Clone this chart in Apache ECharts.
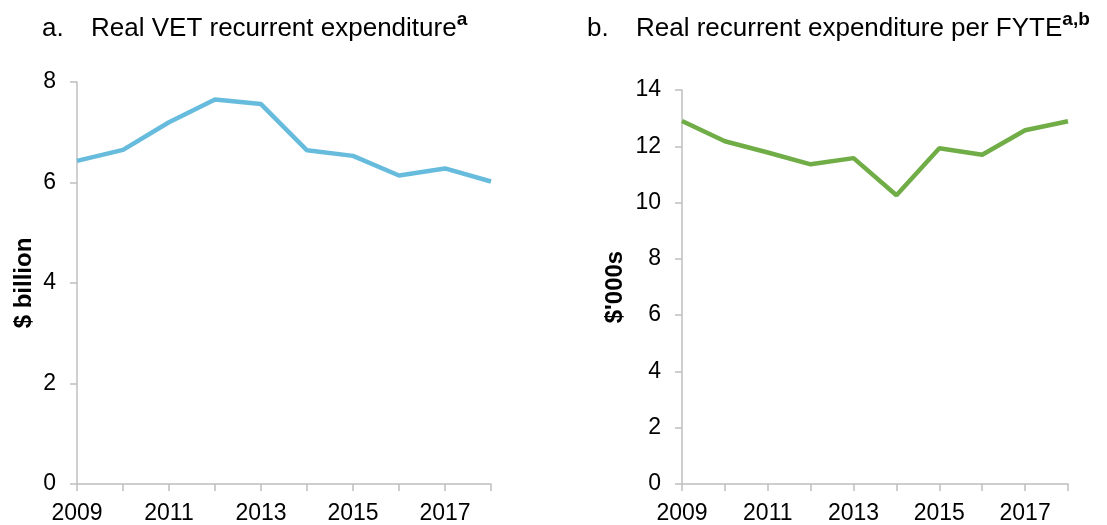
<!DOCTYPE html>
<html>
<head>
<meta charset="utf-8">
<script src="https://cdn.jsdelivr.net/npm/echarts@6/dist/echarts.min.js"></script>
<style>
  html, body { margin: 0; padding: 0; background: #fff; }
  #chart { width: 1107px; height: 525px; }
</style>
</head>
<body>
<div id="chart"></div>
<script>
// Years shown on both panels
const years = ['2009', '2010', '2011', '2012', '2013', '2014', '2015', '2016', '2017', '2018'];
// Panel a: real VET recurrent expenditure ($ billion)
const expenditure = [6.43, 6.65, 7.2, 7.65, 7.56, 6.64, 6.53, 6.14, 6.28, 6.02];
// Panel b: real recurrent expenditure per FYTE ($'000s)
const perFyte = [12.9, 12.18, 11.78, 11.36, 11.58, 10.26, 11.93, 11.7, 12.57, 12.89];

const FONT = '"Liberation Sans", Arial, sans-serif';
const axisGrey = '#bfbfbf';

function xAxisCfg(gridIndex) {
  return {
    type: 'category', gridIndex, data: years, boundaryGap: false,
    axisLine: { lineStyle: { color: axisGrey, width: 1.5 } },
    axisTick: { show: true, length: 7, interval: 0, lineStyle: { color: axisGrey, width: 1.5 } },
    axisLabel: { interval: 1, color: '#000', fontFamily: FONT, fontSize: 23, margin: 18 },
    splitLine: { show: false }
  };
}
function yAxisCfg(gridIndex, max, interval, name, gap) {
  return {
    type: 'value', gridIndex, min: 0, max, interval,
    name, nameLocation: 'middle', nameRotate: 90, nameGap: gap,
    nameTextStyle: { color: '#000', fontFamily: FONT, fontSize: 24, fontWeight: 'bold' },
    axisLine: { show: true, lineStyle: { color: axisGrey, width: 1.5 } },
    axisTick: { show: true, length: 7, lineStyle: { color: axisGrey, width: 1.5 } },
    axisLabel: { color: '#000', fontFamily: FONT, fontSize: 23, margin: 21 },
    splitLine: { show: false }
  };
}
// Panel heading: letter, title text, bold superscript note marker
function titleRich() {
  return {
    lab: { fontFamily: FONT, fontSize: 26, fontWeight: 'normal', color: '#000', width: 49, lineHeight: 30, verticalAlign: 'bottom' },
    t: { fontFamily: FONT, fontSize: 26, fontWeight: 'normal', color: '#000', lineHeight: 30, verticalAlign: 'bottom' },
    sup: { fontFamily: FONT, fontSize: 19, fontWeight: 'bold', color: '#000', lineHeight: 18, verticalAlign: 'bottom', padding: [0, 0, 13, 0] }
  };
}

const chart = echarts.init(document.getElementById('chart'), null, { renderer: 'canvas' });
chart.setOption({
  animation: false,
  backgroundColor: '#fff',
  title: [
    { left: 42, top: 12, padding: 0, text: '{lab|a.}{t|Real VET recurrent expenditure}{sup|a}',
      textStyle: { fontWeight: 'normal', rich: titleRich() } },
    { left: 587, top: 12, padding: 0, text: '{lab|b.}{t|Real recurrent expenditure per FYTE}{sup|a,b}',
      textStyle: { fontWeight: 'normal', rich: titleRich() } }
  ],
  grid: [
    { left: 77, right: 616, top: 82, bottom: 39 },
    { left: 682, right: 39, top: 90, bottom: 39 }
  ],
  xAxis: [xAxisCfg(0), xAxisCfg(1)],
  yAxis: [yAxisCfg(0, 8, 2, '$ billion', 41), yAxisCfg(1, 14, 2, "$'000s", 55)],
  series: [
    { type: 'line', xAxisIndex: 0, yAxisIndex: 0, data: expenditure, symbol: 'none',
      lineStyle: { color: '#67bcdd', width: 4.5 } },
    { type: 'line', xAxisIndex: 1, yAxisIndex: 1, data: perFyte, symbol: 'none',
      lineStyle: { color: '#70ad47', width: 4.5 } }
  ]
});
</script>
</body>
</html>
